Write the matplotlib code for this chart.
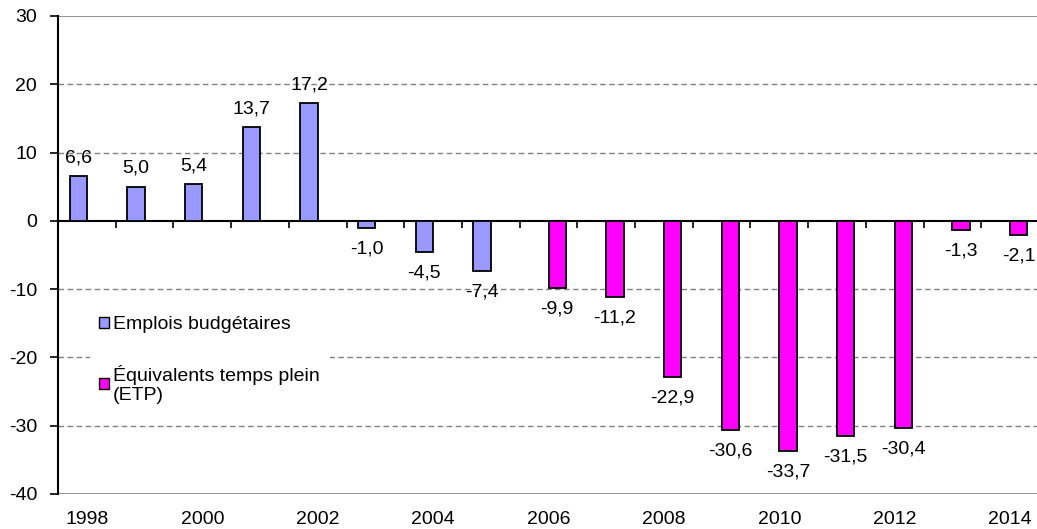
import matplotlib.pyplot as plt
from matplotlib.patches import Patch
from matplotlib.transforms import blended_transform_factory

plt.rcParams['font.family'] = ['Liberation Sans', 'DejaVu Sans']
plt.rcParams['axes.unicode_minus'] = False

years = list(range(1998, 2015))
emplois = [6.6, 5.0, 5.4, 13.7, 17.2, -1.0, -4.5, -7.4,
           None, None, None, None, None, None, None, None, None]
etp = [None, None, None, None, None, None, None, None,
       -9.9, -11.2, -22.9, -30.6, -33.7, -31.5, -30.4, -1.3, -2.1]
year_labels = ['1998', '2000', '2002', '2004', '2006', '2008', '2010', '2012', '2014']
labels = ['Emplois budgétaires', 'Équivalents temps plein\n(ETP)']

blue = '#9999FF'
magenta = '#FF00FF'
fs = 14

fig = plt.figure(figsize=(10.37, 5.29), dpi=100)
ax = fig.add_axes([58 / 1037, 35 / 529, 981 / 1037, 478 / 529])

idx = list(range(len(years)))
w = 0.3

# Two series side by side (Excel style), empty slots where a series has no value
for vals, off, col in [(emplois, -0.15, blue), (etp, 0.15, magenta)]:
    xs = [i + off for i, v in zip(idx, vals) if v is not None]
    vs = [v for v in vals if v is not None]
    bars = ax.bar(xs, vs, width=w, color=col, edgecolor='black', linewidth=1.3, zorder=3)
    for b, v in zip(bars, vs):
        txt = f'{v:.1f}'.replace('.', ',')
        if v >= 0:
            ax.annotate(txt, (b.get_x() + b.get_width() / 2, v), xytext=(0, 7),
                        textcoords='offset points', ha='center', va='bottom', fontsize=fs)
        else:
            ax.annotate(txt, (b.get_x() + b.get_width() / 2, v), xytext=(0, -9),
                        textcoords='offset points', ha='center', va='top', fontsize=fs)

ax.set_xlim(-0.5, len(years) - 0.5)
ax.set_ylim(-40, 30)

# gridlines
for v in [-30, -20, -10, 10, 20]:
    ax.axhline(v, color='#808080', linestyle=(0, (4, 2.5)), linewidth=1, zorder=1)
for v in [-40, 30]:
    ax.axhline(v, color='#808080', linewidth=1.2, zorder=1)

ax.set_yticks(range(-40, 31, 10))
ax.tick_params(axis='y', direction='out', length=6, width=1.2, labelsize=fs, pad=9)

# category axis crossing at zero
ax.spines['bottom'].set_position(('data', 0))
ax.spines['bottom'].set_linewidth(1.5)
ax.spines['left'].set_linewidth(1.5)
ax.spines['top'].set_visible(False)
ax.spines['right'].set_visible(False)
ax.set_xticks([i + 0.5 for i in idx])
ax.set_xticklabels([])
ax.tick_params(axis='x', direction='out', length=5, width=1.2)

trans = blended_transform_factory(ax.transData, ax.transAxes)
for i, y in enumerate(years):
    if str(y) in year_labels:
        ax.text(i, -0.035, str(y), transform=trans, ha='center', va='top', fontsize=fs)

handles = [Patch(facecolor=blue, edgecolor='black'), Patch(facecolor=magenta, edgecolor='black')]
leg = ax.legend(handles, labels, loc='upper left', bbox_to_anchor=(80 / 1037, 1 - 297 / 529),
                bbox_transform=fig.transFigure, fontsize=fs, frameon=True, framealpha=1,
                facecolor='white', edgecolor='none', fancybox=False,
                handlelength=0.5, handleheight=0.5, handletextpad=0.2,
                labelspacing=1.6, borderpad=0.5)
leg.set_zorder(2)

plt.savefig('out.png', dpi=100)
